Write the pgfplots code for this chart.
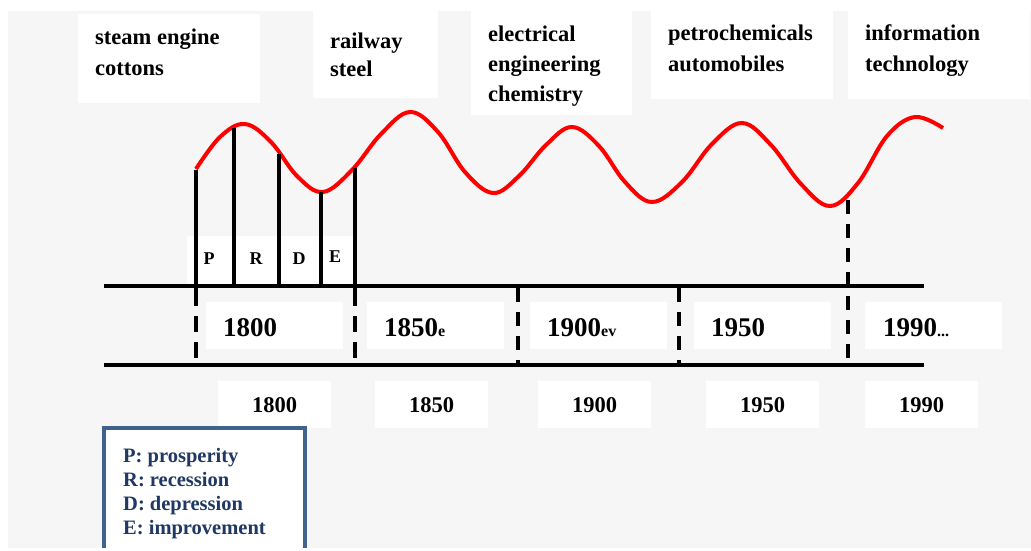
\documentclass[border=0pt]{standalone}
\usepackage{pgfplots}
\pgfplotsset{compat=1.18}
\usepackage{fontspec}
\setmainfont{Liberation Serif}
\definecolor{bggray}{HTML}{F6F6F6}
\definecolor{legborder}{HTML}{41618F}
\definecolor{legtext}{HTML}{1F3864}
\newcommand{\fs}[1]{\fontsize{#1}{#1}\selectfont}
\begin{document}
\begin{tikzpicture}
\begin{axis}[
  width=1031pt, height=548pt, scale only axis,
  xmin=0, xmax=1031, ymin=0, ymax=548,
  y dir=reverse, hide axis, clip=false,
]
% backgrounds
\fill[white] (axis cs:0,0) rectangle (axis cs:1031,548);
\fill[bggray] (axis cs:8,11) rectangle (axis cs:1031,548);
% top label boxes
\fill[white] (axis cs:78,14) rectangle (axis cs:260,103);
\fill[white] (axis cs:313,11) rectangle (axis cs:438,98);
\fill[white] (axis cs:471,11) rectangle (axis cs:632,115);
\fill[white] (axis cs:651,11) rectangle (axis cs:833,99);
\fill[white] (axis cs:848,11) rectangle (axis cs:1030,99);
% PRDE box
\fill[white] (axis cs:187,236) rectangle (axis cs:353,286);
% row 1 boxes
\fill[white] (axis cs:206,302) rectangle (axis cs:343,349);
\fill[white] (axis cs:367,302) rectangle (axis cs:504,349);
\fill[white] (axis cs:530,302) rectangle (axis cs:667,349);
\fill[white] (axis cs:694,302) rectangle (axis cs:831,349);
\fill[white] (axis cs:865,302) rectangle (axis cs:1002,349);
% row 2 boxes
\fill[white] (axis cs:218,381) rectangle (axis cs:331,428);
\fill[white] (axis cs:375,381) rectangle (axis cs:488,428);
\fill[white] (axis cs:538,381) rectangle (axis cs:651,428);
\fill[white] (axis cs:706,381) rectangle (axis cs:819,428);
\fill[white] (axis cs:865,381) rectangle (axis cs:978,428);
% legend box (cut at bottom edge)
\fill[white] (axis cs:104,428) rectangle (axis cs:305,548);
\draw[legborder, line width=4pt] (axis cs:104,548) -- (axis cs:104,428) -- (axis cs:305,428) -- (axis cs:305,548);

% red wave
\addplot[red, line width=4pt, smooth, tension=0.62] coordinates {
(196,169) (220,137) (245,124)
(271,142) (297,176) (323,192)
(352,170) (381,134) (410,112)
(438,132) (465,172) (493,193)
(519,176) (546,145) (572,127)
(599,146) (625,182) (652,202)
(682,182) (712,144) (742,123)
(771,145) (801,184) (830,206)
(858,183) (887,136) (915,117)
(943,128)};

% solid verticals
\addplot[black, line width=3.5pt] coordinates {(196,170) (196,290)};
\addplot[black, line width=3.5pt] coordinates {(234,128) (234,286)};
\addplot[black, line width=3.5pt] coordinates {(279,154) (279,286)};
\addplot[black, line width=3.5pt] coordinates {(321,192) (321,286)};
\addplot[black, line width=3.5pt] coordinates {(355,168) (355,290)};

% horizontal lines
\addplot[black, line width=3.5pt] coordinates {(104,286) (924,286)};
\addplot[black, line width=3.5pt] coordinates {(104,365) (924,365)};

% dashed verticals
\addplot[black, line width=3.5pt, dash pattern=on 16pt off 10pt] coordinates {(196,290) (196,365)};
\addplot[black, line width=3.5pt, dash pattern=on 16pt off 10pt] coordinates {(355,290) (355,365)};
\addplot[black, line width=3.5pt, dash pattern=on 14pt off 10pt] coordinates {(518,288) (518,365)};
\addplot[black, line width=3.5pt, dash pattern=on 14pt off 10pt] coordinates {(679,288) (679,365)};
\addplot[black, line width=3.5pt, dash pattern=on 14pt off 10pt] coordinates {(848,200) (848,365)};

% top labels
\begin{scope}[every node/.style={anchor=base west, inner sep=0pt, font=\bfseries\fs{22.5}}]
\node at (axis cs:95,44) {steam engine};
\node at (axis cs:95,75) {cottons};
\node at (axis cs:330,48) {railway};
\node at (axis cs:330,76) {steel};
\node at (axis cs:488,41) {electrical};
\node at (axis cs:488,71) {engineering};
\node at (axis cs:488,101) {chemistry};
\node at (axis cs:668,40) {petrochemicals};
\node at (axis cs:668,71) {automobiles};
\node at (axis cs:865,40) {information};
\node at (axis cs:865,71) {technology};
\end{scope}

% PRDE
\begin{scope}[every node/.style={anchor=base, inner sep=0pt, font=\bfseries\fs{18}}]
\node at (axis cs:209,264) {P};
\node at (axis cs:256,264) {R};
\node at (axis cs:299,264) {D};
\node at (axis cs:335,262) {E};
\end{scope}

% row 1 labels
\begin{scope}[every node/.style={anchor=base west, inner sep=0pt, font=\bfseries\fs{27}}]
\node at (axis cs:223,336) {1800};
\node at (axis cs:384,336) {1850{\fs{16}e}};
\node at (axis cs:547,336) {1900{\fs{16}ev}};
\node at (axis cs:711,336) {1950};
\node at (axis cs:883,336) {1990{\fs{16}...}};
\end{scope}

% row 2 labels
\begin{scope}[every node/.style={anchor=base, inner sep=0pt, font=\bfseries\fs{22.5}}]
\node at (axis cs:274.5,412) {1800};
\node at (axis cs:431.5,412) {1850};
\node at (axis cs:594.5,412) {1900};
\node at (axis cs:762.5,412) {1950};
\node at (axis cs:921.5,412) {1990};
\end{scope}

% legend text
\begin{scope}[every node/.style={anchor=base west, inner sep=0pt, text=legtext, font=\bfseries\fs{20.5}}]
\node at (axis cs:123,462) {P: prosperity};
\node at (axis cs:123,486) {R: recession};
\node at (axis cs:123,510) {D: depression};
\node at (axis cs:123,534) {E: improvement};
\end{scope}
\end{axis}
\end{tikzpicture}
\end{document}
